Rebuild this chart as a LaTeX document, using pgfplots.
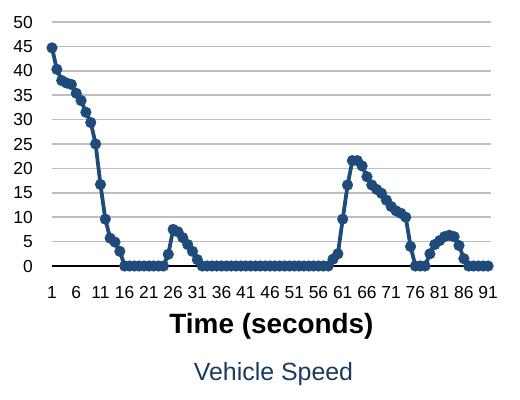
\documentclass[border=0pt]{standalone}
\usepackage{fontspec}
\setmainfont{Liberation Sans}
\usepackage{pgfplots}
\usepackage{pgfplotstable}
\pgfplotsset{compat=1.18}
\definecolor{speedblue}{HTML}{1F4B7A}
\definecolor{titleblue}{HTML}{1A3A5E}
\definecolor{gridgray}{HTML}{BEBEBE}

% vehicle speed, one reading per second
\pgfplotstableread{
t v
1 44.7
2 40.3
3 38.0
4 37.5
5 37.2
6 35.4
7 33.9
8 31.5
9 29.4
10 25.0
11 16.7
12 9.6
13 5.7
14 4.9
15 3.0
16 0
17 0
18 0
19 0
20 0
21 0
22 0
23 0
24 0
25 2.4
26 7.5
27 7.0
28 5.8
29 4.4
30 3.0
31 1.3
32 0
33 0
34 0
35 0
36 0
37 0
38 0
39 0
40 0
41 0
42 0
43 0
44 0
45 0
46 0
47 0
48 0
49 0
50 0
51 0
52 0
53 0
54 0
55 0
56 0
57 0
58 0
59 1.4
60 2.5
61 9.6
62 16.6
63 21.6
64 21.6
65 20.5
66 18.3
67 16.6
68 15.7
69 14.9
70 13.5
71 12.2
72 11.3
73 10.8
74 10.0
75 4.0
76 0
77 0
78 0
79 2.5
80 4.4
81 5.2
82 6.0
83 6.3
84 6.0
85 4.2
86 1.5
87 0
88 0
89 0
90 0
91 0
}\speedtable

\begin{document}
\begin{tikzpicture}
\path (-52bp,-134bp) rectangle (468bp,266bp);
\begin{axis}[
    scale only axis,
    width=439bp, height=244bp,
    xmin=1, xmax=91.6, ymin=0, ymax=50,
    xtick={1,6,...,91}, ytick={0,5,...,50},
    axis x line*=bottom, axis y line*=left,
    x axis line style={black, line width=1.2bp, -},
    y axis line style={draw=none},
    major tick length=0pt,
    ymajorgrids=true,
    grid style={gridgray, line width=1.6bp},
    clip=false,
    /pgf/number format/assume math mode=true,
    xticklabel style={font=\fontsize{17.5}{17.5}\selectfont, anchor=base, inner sep=0pt, yshift=-32bp},
    yticklabel style={font=\fontsize{17.5}{17.5}\selectfont, anchor=east, inner sep=0pt, xshift=-19bp},
    xlabel={\bfseries Time (seconds)},
    xlabel style={font=\fontsize{28}{28}\selectfont, at={(axis description cs:0.5,0)}, anchor=base, inner sep=0pt, yshift=-67bp},
]
\addplot[speedblue, line width=3.8bp, mark=*, mark size=5.3bp,
    mark options={fill=speedblue, draw=speedblue, line width=0.5bp}]
    table[x=t, y=v] {\speedtable};
\end{axis}
\node[anchor=base, inner sep=0pt, text=titleblue, font=\fontsize{25}{25}\selectfont] at (221.5bp,-114bp) {Vehicle Speed};
\end{tikzpicture}
\end{document}
